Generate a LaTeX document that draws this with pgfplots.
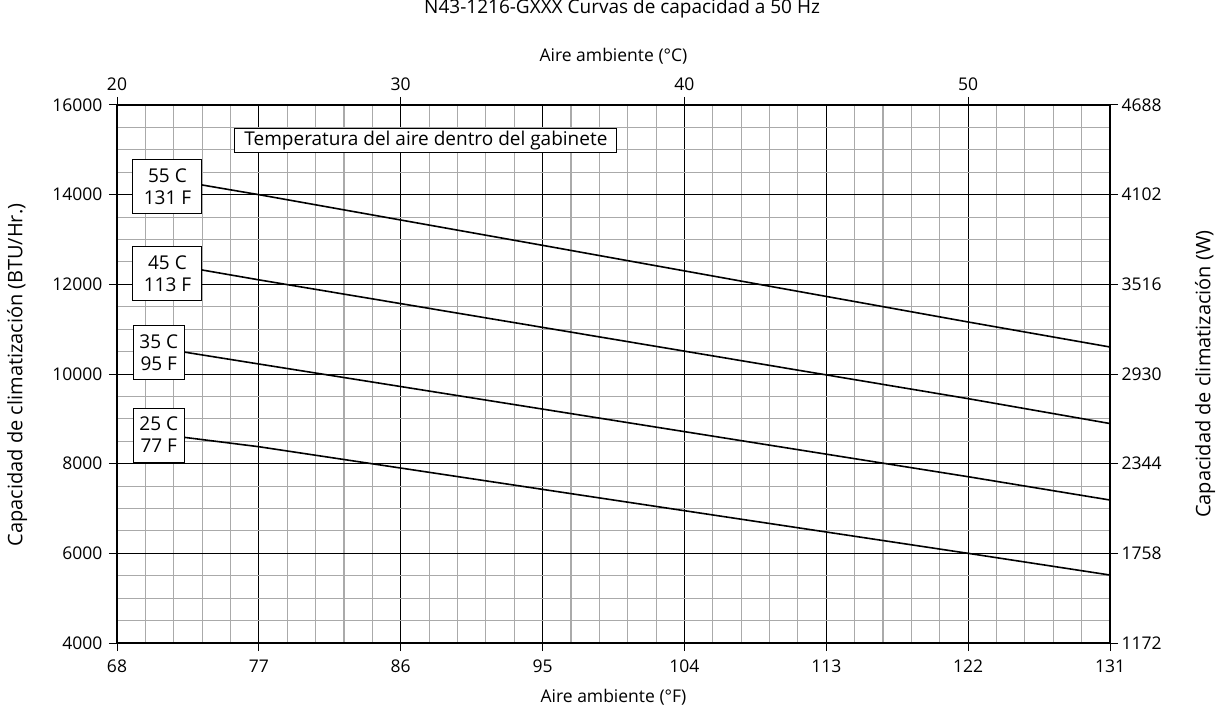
\documentclass[border=0pt]{standalone}
\usepackage{fontspec}
\setmainfont{Open Sans}
\usepackage{pgfplots}
\pgfplotsset{compat=1.18}
\definecolor{minorgrid}{RGB}{170,170,170}
\newcommand{\tf}{\fontsize{17.5}{21}\selectfont}
\newcommand{\boxf}{\fontsize{19}{22}\selectfont}
\newcommand{\yf}{\fontsize{20}{24}\selectfont}
\begin{document}
\begin{tikzpicture}[x=1pt,y=1pt]
\useasboundingbox (0,0) rectangle (1222,710);
\pgfplotsset{
  common/.style={
    at={(117pt,67pt)}, anchor=south west,
    scale only axis, width=993pt, height=538pt,
    xmin=68, xmax=131, ymin=4000, ymax=16000,
    scaled y ticks=false, scaled x ticks=false,
    tick align=outside, major tick length=8pt, minor tick length=0pt,
    tick style={black, line width=1pt},
    axis line style={black, line width=1.2pt, -},
    ticklabel style={font=\tf},
    xlabel style={font=\tf},
    ylabel style={font=\yf},
    /pgf/number format/assume math mode=true,
    /pgf/number format/set thousands separator={},
    /pgf/number format/fixed,
  }
}
\begin{axis}[common,
  axis x line*=bottom, axis y line*=left,
  xtick={68,77,...,131}, ytick={4000,6000,...,16000},
  minor x tick num=4, minor y tick num=3,
  grid=both,
  major grid style={black, line width=1pt},
  minor grid style={minorgrid, line width=1.1pt},
  xticklabel style={yshift=-5pt},
  yticklabel style={xshift=-3pt},
  xlabel={Aire ambiente (°F)},
  xlabel style={at={(axis description cs:0.5,-0.1004)}, anchor=center},
  ylabel={Capacidad de climatización (BTU/Hr.)},
  ylabel style={at={(axis description cs:-0.1007,0.498)}, anchor=center, rotate=0},
  title={N43-1216-GXXX Curvas de capacidad a 50 Hz},
  title style={at={(axis description cs:0.5086,1.169)}, anchor=center, font=\boxf},
]
\addplot[black, line width=1.6pt] coordinates {(73.4,14216) (77,14000) (95,12870) (104,12300) (122,11160) (131,10602)};
\addplot[black, line width=1.6pt] coordinates {(73.4,12320) (77,12100) (122,9450) (131,8895)};
\addplot[black, line width=1.6pt] coordinates {(72.25,10490) (77,10223) (122,7709) (131,7189)};
\addplot[black, line width=1.6pt] coordinates {(72.25,8588) (77,8378) (122,6000) (131,5516)};
\tikzset{lbl/.style={draw, fill=white, line width=1pt, align=center, inner sep=1pt, font=\boxf, minimum height=54pt}}
\node[lbl, minimum width=69pt] at (axis cs:71.2,14171) {55 C\\131 F};
\node[lbl, minimum width=69pt] at (axis cs:71.2,12237) {45 C\\113 F};
\node[lbl, minimum width=51pt] at (axis cs:70.65,10472) {35 C\\95 F};
\node[lbl, minimum width=51pt] at (axis cs:70.65,8639) {25 C\\77 F};
\node[draw, fill=white, line width=1pt, font=\boxf, minimum width=382pt, minimum height=24pt, inner sep=1pt] at (axis cs:87.6,15197) {Temperatura del aire dentro del gabinete};
\end{axis}
\begin{axis}[common,
  axis x line*=top, axis y line*=right,
  xtick={68,86,104,122}, xticklabels={20,30,40,50},
  ytick={4000,6000,...,16000}, yticklabels={1172,1758,2344,2930,3516,4102,4688},
  xticklabel style={yshift=3pt},
  xlabel={Aire ambiente (°C)},
  xlabel style={at={(axis description cs:0.5,1.091)}, anchor=center},
  ylabel={Capacidad de climatización (W)},
  ylabel style={at={(axis description cs:1.0957,0.5)}, anchor=center, rotate=0},
]
\end{axis}
\end{tikzpicture}
\end{document}
